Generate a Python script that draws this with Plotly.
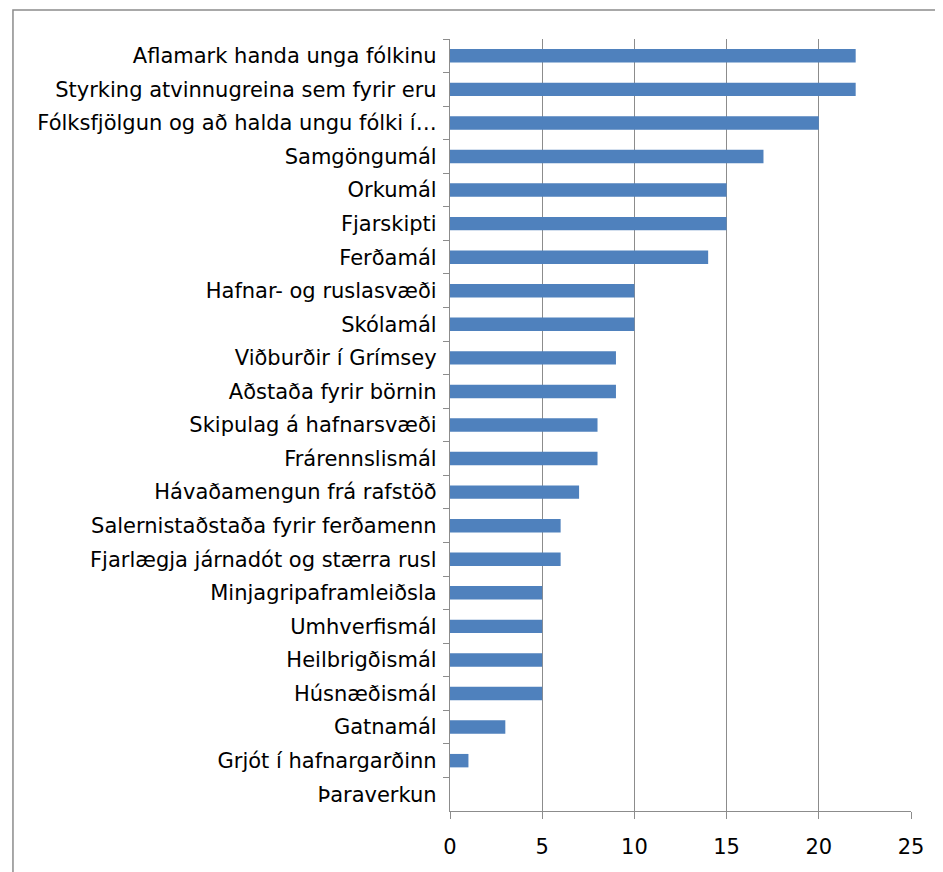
import plotly.graph_objects as go

categories = [
    "Aflamark handa unga fólkinu",
    "Styrking atvinnugreina sem fyrir eru",
    "Fólksfjölgun og að halda ungu fólki í…",
    "Samgöngumál",
    "Orkumál",
    "Fjarskipti",
    "Ferðamál",
    "Hafnar- og ruslasvæði",
    "Skólamál",
    "Viðburðir í Grímsey",
    "Aðstaða fyrir börnin",
    "Skipulag á hafnarsvæði",
    "Frárennslismál",
    "Hávaðamengun frá rafstöð",
    "Salernistaðstaða fyrir ferðamenn",
    "Fjarlægja járnadót og stærra rusl",
    "Minjagripaframleiðsla",
    "Umhverfismál",
    "Heilbrigðismál",
    "Húsnæðismál",
    "Gatnamál",
    "Grjót í hafnargarðinn",
    "Þaraverkun",
]
values = [22, 22, 20, 17, 15, 15, 14, 10, 10, 9, 9, 8, 8, 7, 6, 6, 5, 5, 5, 5, 3, 1, 0]
x_ticks = [0, 5, 10, 15, 20, 25]

fig = go.Figure(go.Bar(
    x=values, y=categories, orientation="h",
    marker=dict(color="#4F81BD", line=dict(width=0)),
    width=0.4,
))

fig.update_layout(
    width=943, height=872,
    margin=dict(l=442, r=40, t=31, b=69, autoexpand=False),
    paper_bgcolor="white", plot_bgcolor="white",
    font=dict(family="DejaVu Sans, sans-serif", size=21, color="#000000"),
    showlegend=False,
    bargap=0.6,
    shapes=[dict(type="rect", xref="paper", yref="paper",
                 x0=-0.948, x1=2.0, y0=-1.0, y1=1.0376,
                 line=dict(color="#8c8c8c", width=1.5), layer="below")],
)
fig.update_xaxes(
    range=[0, 25], tickvals=x_ticks, ticktext=[str(v) for v in x_ticks],
    showgrid=True, gridcolor="#8c8c8c", gridwidth=1.3,
    showline=True, linecolor="#8c8c8c", linewidth=1.3,
    ticks="outside", ticklen=7, tickcolor="#8c8c8c", tickwidth=1.3,
    zeroline=False, tickfont=dict(size=21), automargin=False,
    ticklabelstandoff=10,
)
fig.update_yaxes(
    categoryorder="array", categoryarray=categories, autorange="reversed",
    showgrid=False, showline=True, linecolor="#8c8c8c", linewidth=1.3,
    ticks="outside", ticklen=6, tickcolor="#8c8c8c", tickwidth=1.3,
    tickson="boundaries", ticklabelstandoff=8, automargin=False,
    tickfont=dict(size=21),
)

fig.write_html("out.html")
